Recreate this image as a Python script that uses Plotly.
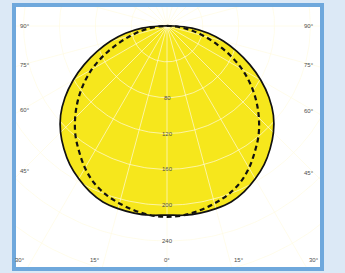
import numpy as np
import plotly.graph_objects as go

# ---- data ----
gamma = [0, 5, 10, 15, 20, 25, 30, 35, 40, 45, 50, 55, 60, 65, 70, 75, 80, 85, 90]
i_c0_c180 = [211, 212, 212, 211, 209, 204, 197, 189, 179, 168, 155, 139, 121, 102, 83, 65, 47, 28, 8]
i_c90_c270 = [213, 212, 209, 205, 200, 193, 183, 171, 159, 145, 130, 114, 97, 78, 59, 42, 27, 14, 3]
ring_values = [40, 80, 120, 160, 200, 240, 280, 320, 360]
ring_labels = [80, 120, 160, 200, 240]
side_angle_labels = [90, 75, 60, 45]
bottom_angle_labels = [30, 15, 0, 15, 30]
bottom_angle_signs = [-1, -1, 0, 1, 1]

# ---- geometry ----
W, H = 345, 273
ml, mr, mt, mb = 16, 25, 7, 6
scale = 0.896  # px per unit
x_range = [(ml - 167) / scale, (W - mr - 167) / scale]
y_range = [-(H - mb - 26) / scale, (26 - mt) / scale]


def to_xy(angles_deg, values):
    a = np.radians(np.asarray(angles_deg, dtype=float))
    r = np.asarray(values, dtype=float)
    return r * np.sin(a), -r * np.cos(a)


def full_curve(vals):
    ang = [-g for g in gamma[::-1]] + gamma[1:]
    v = list(vals[::-1]) + list(vals[1:])
    x, y = to_xy(ang, v)
    # close the outline
    return np.append(x, x[0]), np.append(y, y[0])


fig = go.Figure()

sx, sy = full_curve(i_c0_c180)
dx, dy = full_curve(i_c90_c270)

# yellow fill
fig.add_trace(go.Scatter(x=sx, y=sy, mode="lines", fill="toself",
                         fillcolor="#f6e71c", line=dict(width=0, shape="spline", smoothing=1),
                         hoverinfo="skip"))

grid_color = "rgba(255,250,225,0.68)"
# rings
t = np.linspace(-180, 180, 361)
for rv in ring_values:
    gx, gy = to_xy(t, [rv] * len(t))
    fig.add_trace(go.Scatter(x=gx, y=gy, mode="lines",
                             line=dict(color=grid_color, width=1), hoverinfo="skip"))
# radial lines
for a in range(-180, 180, 15):
    gx, gy = to_xy([a, a], [0, 420])
    fig.add_trace(go.Scatter(x=gx, y=gy, mode="lines",
                             line=dict(color=grid_color, width=1), hoverinfo="skip"))

# curves
fig.add_trace(go.Scatter(x=sx, y=sy, mode="lines",
                         line=dict(color="#111111", width=1.7, shape="spline", smoothing=1),
                         hoverinfo="skip"))
fig.add_trace(go.Scatter(x=dx, y=dy, mode="lines",
                         line=dict(color="#111111", width=2.2, dash="5px,3.5px",
                                   shape="spline", smoothing=1),
                         hoverinfo="skip"))

font = dict(family="Liberation Sans, Arial, sans-serif", size=6, color="#4d4d4d")
ann = []
for rv in ring_labels:
    ann.append(dict(x=0, y=-rv, xref="x", yref="y", text=str(rv), showarrow=False,
                    font=font, xanchor="center", yanchor="middle"))

xl = x_range[0] + 6 / scale
xr = x_range[1] - 6 / scale
for a in side_angle_labels:
    if a == 90:
        yl = 0.0
        yrr = 0.0
    else:
        yl = -abs(xl) / np.tan(np.radians(a))
        yrr = -abs(xr) / np.tan(np.radians(a))
    ann.append(dict(x=x_range[0] + 1.5 / scale, y=yl, xref="x", yref="y", text=f"{a}°",
                    showarrow=False, font=font, xanchor="left", yanchor="middle"))
    ann.append(dict(x=x_range[1] - 4 / scale, y=yrr, xref="x", yref="y", text=f"{a}°",
                    showarrow=False, font=font, xanchor="right", yanchor="middle"))

yb = y_range[0] + 2.5 / scale
for a, s in zip(bottom_angle_labels, bottom_angle_signs):
    xpos = s * min(300 * np.tan(np.radians(a)), abs(x_range[0]) - 4 / scale)
    ann.append(dict(x=xpos, y=yb, xref="x", yref="y", text=f"{a}°", showarrow=False,
                    font=font, xanchor="center", yanchor="bottom"))

fig.update_layout(
    width=W, height=H,
    margin=dict(l=ml, r=mr, t=mt, b=mb, pad=0),
    paper_bgcolor="#dce9f6",
    plot_bgcolor="#ffffff",
    showlegend=False,
    xaxis=dict(range=x_range, visible=False, showgrid=False, zeroline=False),
    yaxis=dict(range=y_range, visible=False, showgrid=False, zeroline=False),
    annotations=ann,
    shapes=[dict(type="rect", xref="paper", yref="paper",
                 x0=-2 / 304, x1=1 + 2 / 304, y0=-2 / 260, y1=1 + 2 / 260,
                 line=dict(color="#6fa8dc", width=4), layer="above")],
)

fig.write_html("out.html", config={"displayModeBar": False},
               post_script="document.body.style.margin='0';document.body.style.overflow='hidden';")
